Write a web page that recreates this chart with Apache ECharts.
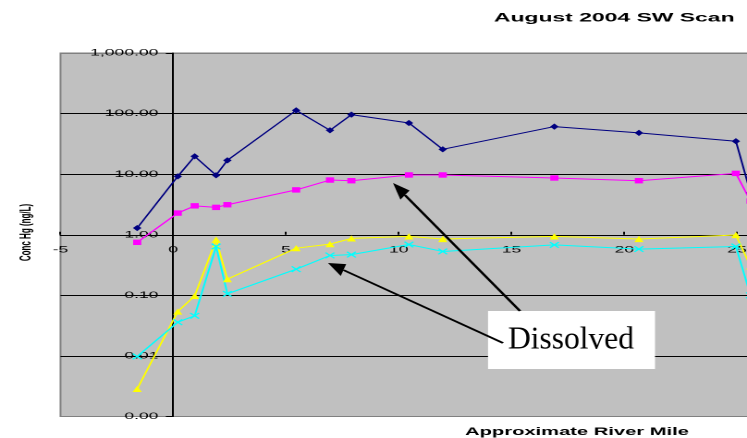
<!DOCTYPE html>
<html>
<head>
<meta charset="utf-8">
<script src="https://cdn.jsdelivr.net/npm/echarts@6/dist/echarts.min.js"></script>
<style>
  html, body { margin: 0; padding: 0; background: #fff; overflow: hidden; width: 747px; height: 438px; }
  #chart { height: 438px; transform-origin: 0 0; }
</style>
</head>
<body>
<div id="chart"></div>
<script>
// Sampling stations (approximate river mile)
const riverMile = [-1.6, 0.2, 0.95, 1.9, 2.4, 5.45, 6.95, 7.9, 10.45, 11.95, 16.9, 20.65, 24.95, 25.6];

// Concentrations per station
const totalHg      = [1.29, 9.2, 19.7, 9.6, 16.9, 113, 53, 96, 70, 25.7, 61, 48, 35, 4.9];
const dissolvedHg  = [0.75, 2.28, 3.0, 2.83, 3.13, 5.5, 8.0, 7.8, 9.7, 9.7, 8.65, 7.8, 10.3, 3.6];
const totalMeHg    = [0.00285, 0.054, 0.098, 0.83, 0.185, 0.60, 0.70, 0.87, 0.94, 0.85, 0.94, 0.85, 0.99, 0.3];
const dissolvedMeHg= [0.0098, 0.036, 0.046, 0.64, 0.106, 0.27, 0.455, 0.47, 0.69, 0.53, 0.68, 0.58, 0.64, 0.1];

// Axis ticks
const xTicks = { min: -5, max: 30, step: 5 };
const yTicks = { min: 0.001, max: 1000 };

// The whole drawing is laid out narrow and widened horizontally,
// giving the wide, stretched lettering of the chart.
const PAGE_W = 747;
const DRAW_W = 404;
const SX = PAGE_W / DRAW_W;
const el = document.getElementById('chart');
el.style.width = DRAW_W + 'px';
el.style.transform = 'scaleX(' + SX + ')';

const u = px => px / SX;           // page pixels -> drawing units (horizontal)
const FONT = '"Liberation Sans", Arial, sans-serif';

const PX_PER_MILE = 22.55;
const gridTop = 53, gridH = 363.5;
const gridLeft = u(60.5), gridW = u(PX_PER_MILE * (xTicks.max - xTicks.min));
// the value axis stands at river mile 0
const yAxisShift = u(PX_PER_MILE * (0 - xTicks.min));

const pairs = vals => riverMile.map((m, i) => [m, vals[i]]);

function arrow(tail, tip) {
  const dx = tip[0] - tail[0], dy = tip[1] - tail[1];
  const len = Math.hypot(dx, dy), ux = dx / len, uy = dy / len;
  const L = 17, W = 6.5;
  const bx = tip[0] - L * ux, by = tip[1] - L * uy;
  const nx = -uy, ny = ux;
  return [
    { type: 'line', z: 120, shape: { x1: u(tail[0]), y1: tail[1], x2: u(bx), y2: by },
      style: { stroke: '#000', lineWidth: 1.6 } },
    { type: 'polygon', z: 120, shape: { points: [
        [u(tip[0]), tip[1]], [u(bx + W * nx), by + W * ny], [u(bx - W * nx), by - W * ny]] },
      style: { fill: '#000' } }
  ];
}

const chart = echarts.init(el, null, { devicePixelRatio: 2, renderer: 'canvas' });
chart.setOption({
  animation: false,
  backgroundColor: '#fff',
  title: {
    text: 'August 2004 SW Scan',
    left: u(605), top: 7, textAlign: 'center',
    textStyle: { fontFamily: FONT, fontWeight: 'bold', fontSize: 12.4, color: '#000' }
  },
  grid: {
    left: gridLeft, top: gridTop, width: gridW, height: gridH,
    show: true, backgroundColor: '#C0C0C0', borderColor: '#808080', borderWidth: 1,
    containLabel: false, outerBoundsMode: 'none'
  },
  xAxis: {
    type: 'value', min: xTicks.min, max: xTicks.max, interval: xTicks.step,
    offset: -gridH / 2,
    axisLine: { show: true, onZero: false, lineStyle: { color: '#000', width: 1 } },
    axisTick: { show: true, inside: true, length: 3, lineStyle: { color: '#000' } },
    axisLabel: { color: '#000', fontSize: 9.5, fontFamily: FONT, margin: 10 },
    splitLine: { show: false }
  },
  yAxis: {
    type: 'log', logBase: 10, min: yTicks.min, max: yTicks.max, interval: 1,
    offset: -yAxisShift,
    axisLine: { show: true, onZero: false, lineStyle: { color: '#000', width: 1 } },
    axisTick: { show: true, length: 4, lineStyle: { color: '#000' } },
    axisLabel: {
      color: '#000', fontSize: 9.5, fontFamily: FONT, margin: 8,
      formatter: v => Number(v).toLocaleString('en-US', { minimumFractionDigits: 2, maximumFractionDigits: 2 })
    },
    splitLine: { show: true, lineStyle: { width: 1,
      color: ['#808080', '#000', '#000', '#000', '#000', '#000', '#808080'] } }
  },
  series: [
    { name: 'Total Hg', type: 'line', data: pairs(totalHg),
      symbol: 'diamond', symbolSize: [4.6, 6.2],
      lineStyle: { color: '#000080', width: 1 },
      itemStyle: { color: '#000080', borderWidth: 0 } },
    { name: 'Dissolved Hg', type: 'line', data: pairs(dissolvedHg),
      symbol: 'rect', symbolSize: [4.4, 5.4],
      lineStyle: { color: '#FF00FF', width: 1 },
      itemStyle: { color: '#FF00FF', borderWidth: 0 } },
    { name: 'Total MeHg', type: 'line', data: pairs(totalMeHg),
      symbol: 'triangle', symbolSize: [5, 6.2],
      lineStyle: { color: '#FFFF00', width: 1 },
      itemStyle: { color: '#FFFF00', borderWidth: 0 } },
    { name: 'Dissolved MeHg', type: 'line', data: pairs(dissolvedMeHg),
      symbol: 'path://M0,0L10,10M10,0L0,10', symbolSize: [4.8, 5.6],
      lineStyle: { color: '#00FFFF', width: 1 },
      itemStyle: { color: '#00FFFF', borderColor: '#00FFFF', borderWidth: 1 } }
  ],
  graphic: [
    { type: 'text', z: 110, x: u(26.2), y: 232.5, rotation: Math.PI / 2,
      style: { text: 'Conc Hg (ng/L)', font: 'bold 8px ' + FONT, fill: '#000',
        align: 'center', verticalAlign: 'middle', textAlign: 'center', textVerticalAlign: 'middle' } },
    { type: 'text', z: 110, x: u(577), y: 432,
      style: { text: 'Approximate River Mile', font: 'bold 10.9px ' + FONT, fill: '#000',
        align: 'center', verticalAlign: 'middle', textAlign: 'center', textVerticalAlign: 'middle' } },
    { type: 'rect', z: 110, shape: { x: u(488), y: 311, width: u(655 - 488), height: 58 },
      style: { fill: '#fff' } },
    { type: 'text', z: 115, x: u(571), y: 340, scaleX: 1 / SX,
      style: { text: 'Dissolved', font: '31.5px "Liberation Serif", "Times New Roman", serif', fill: '#000',
        align: 'center', verticalAlign: 'middle', textAlign: 'center', textVerticalAlign: 'middle' } },
    ...arrow([520, 311], [393, 183]),
    ...arrow([503, 343], [328, 263])
  ]
});
</script>
</body>
</html>
